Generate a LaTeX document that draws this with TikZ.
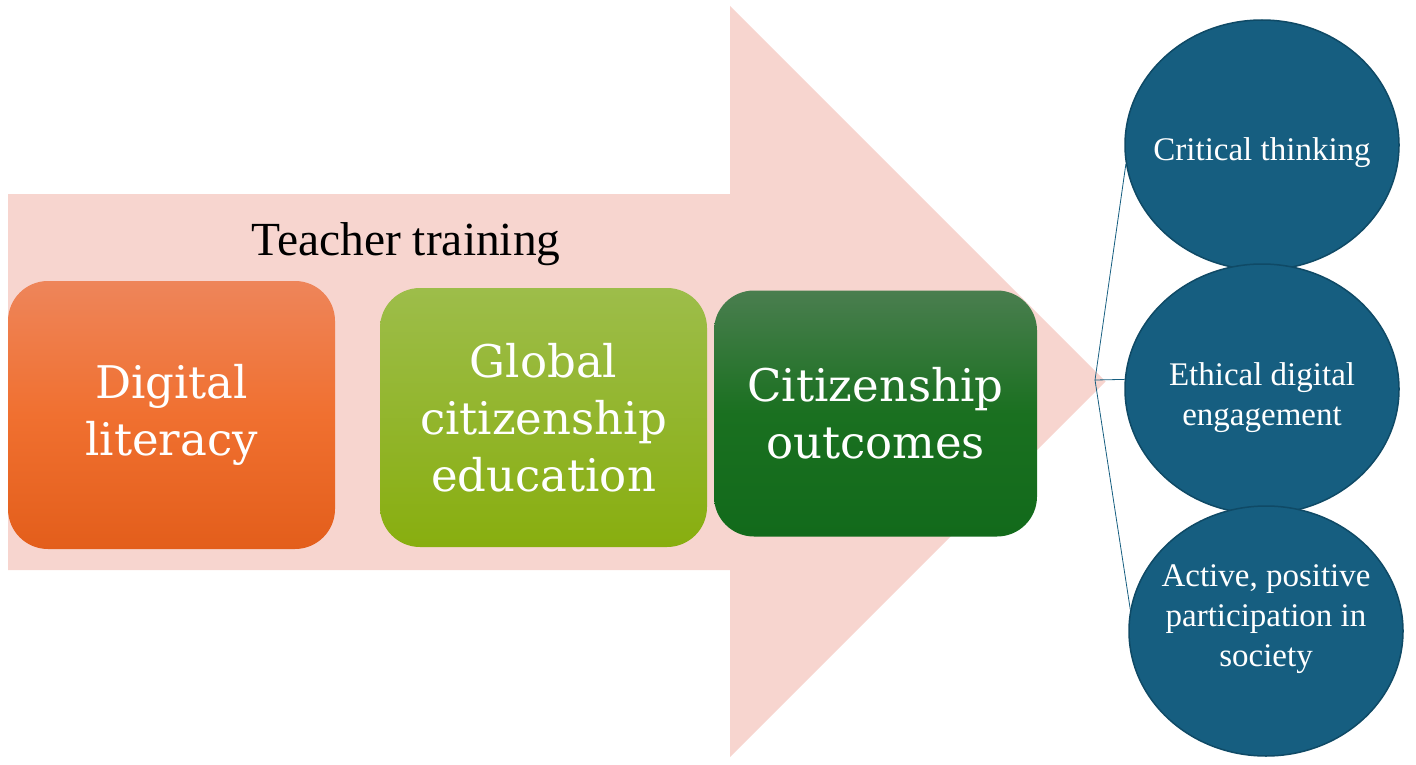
\documentclass[tikz,border=0pt]{standalone}
\usepackage{fontspec}
\setmainfont{Liberation Serif}
\newfontfamily\boxfont{DejaVu Serif}
\usepackage{tikz}
\usetikzlibrary{positioning}
\usetikzlibrary{shapes.geometric}
\definecolor{arrowpink}{HTML}{F7D5CF}
\definecolor{orgtop}{HTML}{EE855A}
\definecolor{orgmid}{HTML}{F07030}
\definecolor{orgbot}{HTML}{E35E1B}
\definecolor{lgtop}{HTML}{9DBD4A}
\definecolor{lgbot}{HTML}{88AE0F}
\definecolor{dgtop}{HTML}{4A7E4F}
\definecolor{dgmid}{HTML}{1A7020}
\definecolor{dgbot}{HTML}{126A1B}
\definecolor{circfill}{HTML}{165E80}
\definecolor{circedge}{HTML}{0F4A66}
\tikzstyle{box_n} = [rounded corners=40pt, text=white, align=center, inner sep=0pt, font=\boxfont\fontsize{45}{57}\selectfont]
\tikzstyle{box_o} = [box_n, top color=orgtop, bottom color=orgbot, middle color=orgmid, minimum width=327pt, minimum height=268pt]
\tikzstyle{box_g} = [box_n, top color=lgtop, bottom color=lgbot, minimum width=327pt, minimum height=259pt]
\tikzstyle{box_d} = [box_n, top color=dgtop, bottom color=dgbot, middle color=dgmid, minimum width=323pt, minimum height=246pt]
\tikzstyle{circ_n} = [ellipse, draw=circedge, fill=circfill, line width=1.5pt, inner sep=0pt, minimum width=274pt, minimum height=250pt]
\tikzstyle{circ_t} = [text=white, align=center, inner sep=0pt, font=\fontsize{33}{40}\selectfont]
\tikzstyle{link} = [draw=circfill, line width=0.8pt]

\begin{document}
\begin{tikzpicture}[x=1pt,y=-1pt]
\useasboundingbox (0,0) rectangle (1416,765);
% big arrow
\fill[arrowpink] (8,194) -- (730,194) -- (730,6) -- (1105.5,381.5) -- (730,757) -- (730,570) -- (8,570) -- cycle;
\node [anchor=base, font=\fontsize{47.5}{57}\selectfont] (tt) at (406,255) {Teacher training};
% boxes
\node [box_o] (dl) at (171.5,415) {Digital\\literacy};
\node [box_g] (gce) at (543.5,417.5) {Global\\citizenship\\education};
\node [box_d] (co) at (875.5,413.5) {Citizenship\\outcomes};
% outcomes
\coordinate (j) at (1095,380);
\node [circ_n] (ct) at (1262,145) {};
\node [circ_t] (ct_t) at ([yshift=-8pt]ct.center) {Critical thinking};
\node [circ_n] (ede) at (1262,389) {};
\node [circ_t] (ede_t) at ([yshift=-9pt]ede.center) {Ethical digital\\engagement};
\node [circ_n] (app) at (1266,631) {};
\node [circ_t] (app_t) at ([yshift=12pt]app.center) {Active, positive\\participation in\\society};
\draw [link] (j) -- (ct.188);
\draw [link] (j) -- (ede.176);
\draw [link] (j) -- (app.171);
\end{tikzpicture}
\end{document}
